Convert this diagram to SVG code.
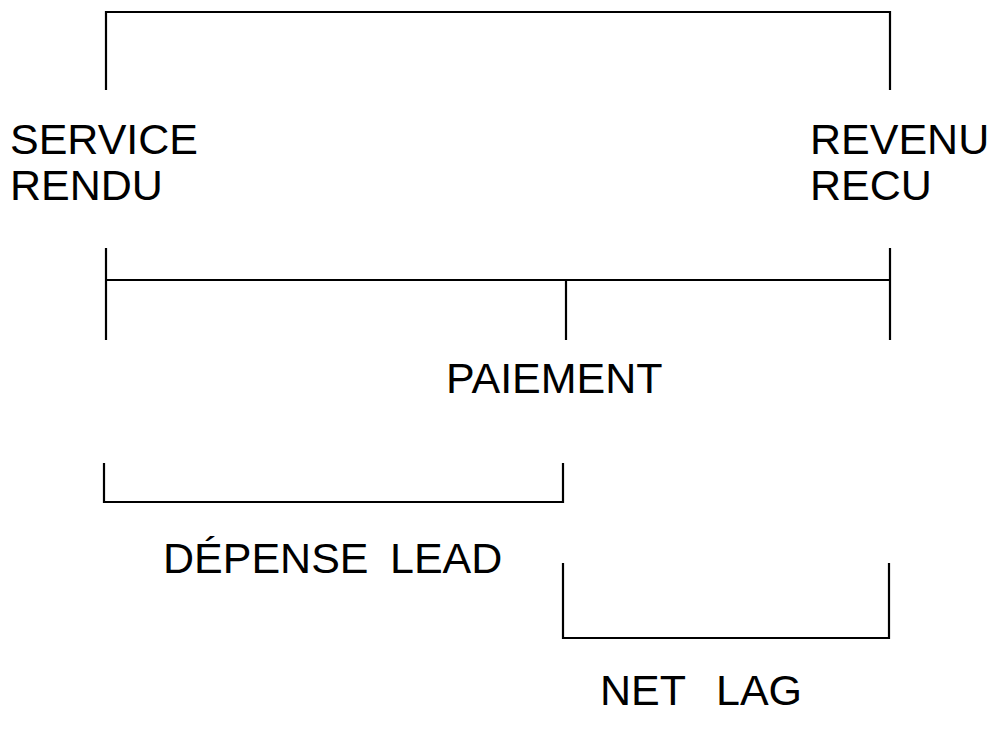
<svg xmlns="http://www.w3.org/2000/svg" width="998" height="730" viewBox="0 0 998 730">
<style>
.ln{stroke:#000;stroke-width:2.2;fill:none}
.t{font-family:"Liberation Sans",Arial,sans-serif;font-size:43px;fill:#000;white-space:pre}
</style>
<rect width="998" height="730" fill="#fff"/>
<g id="connectors">
<polyline class="ln" points="106,90 106,12 890,12 890,90"/>
<line class="ln" x1="106" y1="280" x2="890" y2="280"/>
<line class="ln" x1="106" y1="248" x2="106" y2="340"/>
<line class="ln" x1="890" y1="248" x2="890" y2="340"/>
<line class="ln" x1="566" y1="280" x2="566" y2="340"/>
<polyline class="ln" points="104,463 104,502 563,502 563,463"/>
<polyline class="ln" points="563,563 563,638 889,638 889,563"/>
</g>
<g id="service-rendu"><text class="t" x="10" y="154">SERVICE</text><text class="t" x="10" y="200">RENDU</text></g>
<g id="revenu-recu"><text class="t" x="810" y="154">REVENU</text><text class="t" x="810" y="200">RECU</text></g>
<g id="paiement"><text class="t" x="446" y="393">PAIEMENT</text></g>
<g id="depense-lead"><text class="t" x="163" y="573">DÉPENSE<tspan x="390">LEAD</tspan></text></g>
<g id="net-lag"><text class="t" x="600" y="705">NET<tspan x="716">LAG</tspan></text></g>
</svg>
